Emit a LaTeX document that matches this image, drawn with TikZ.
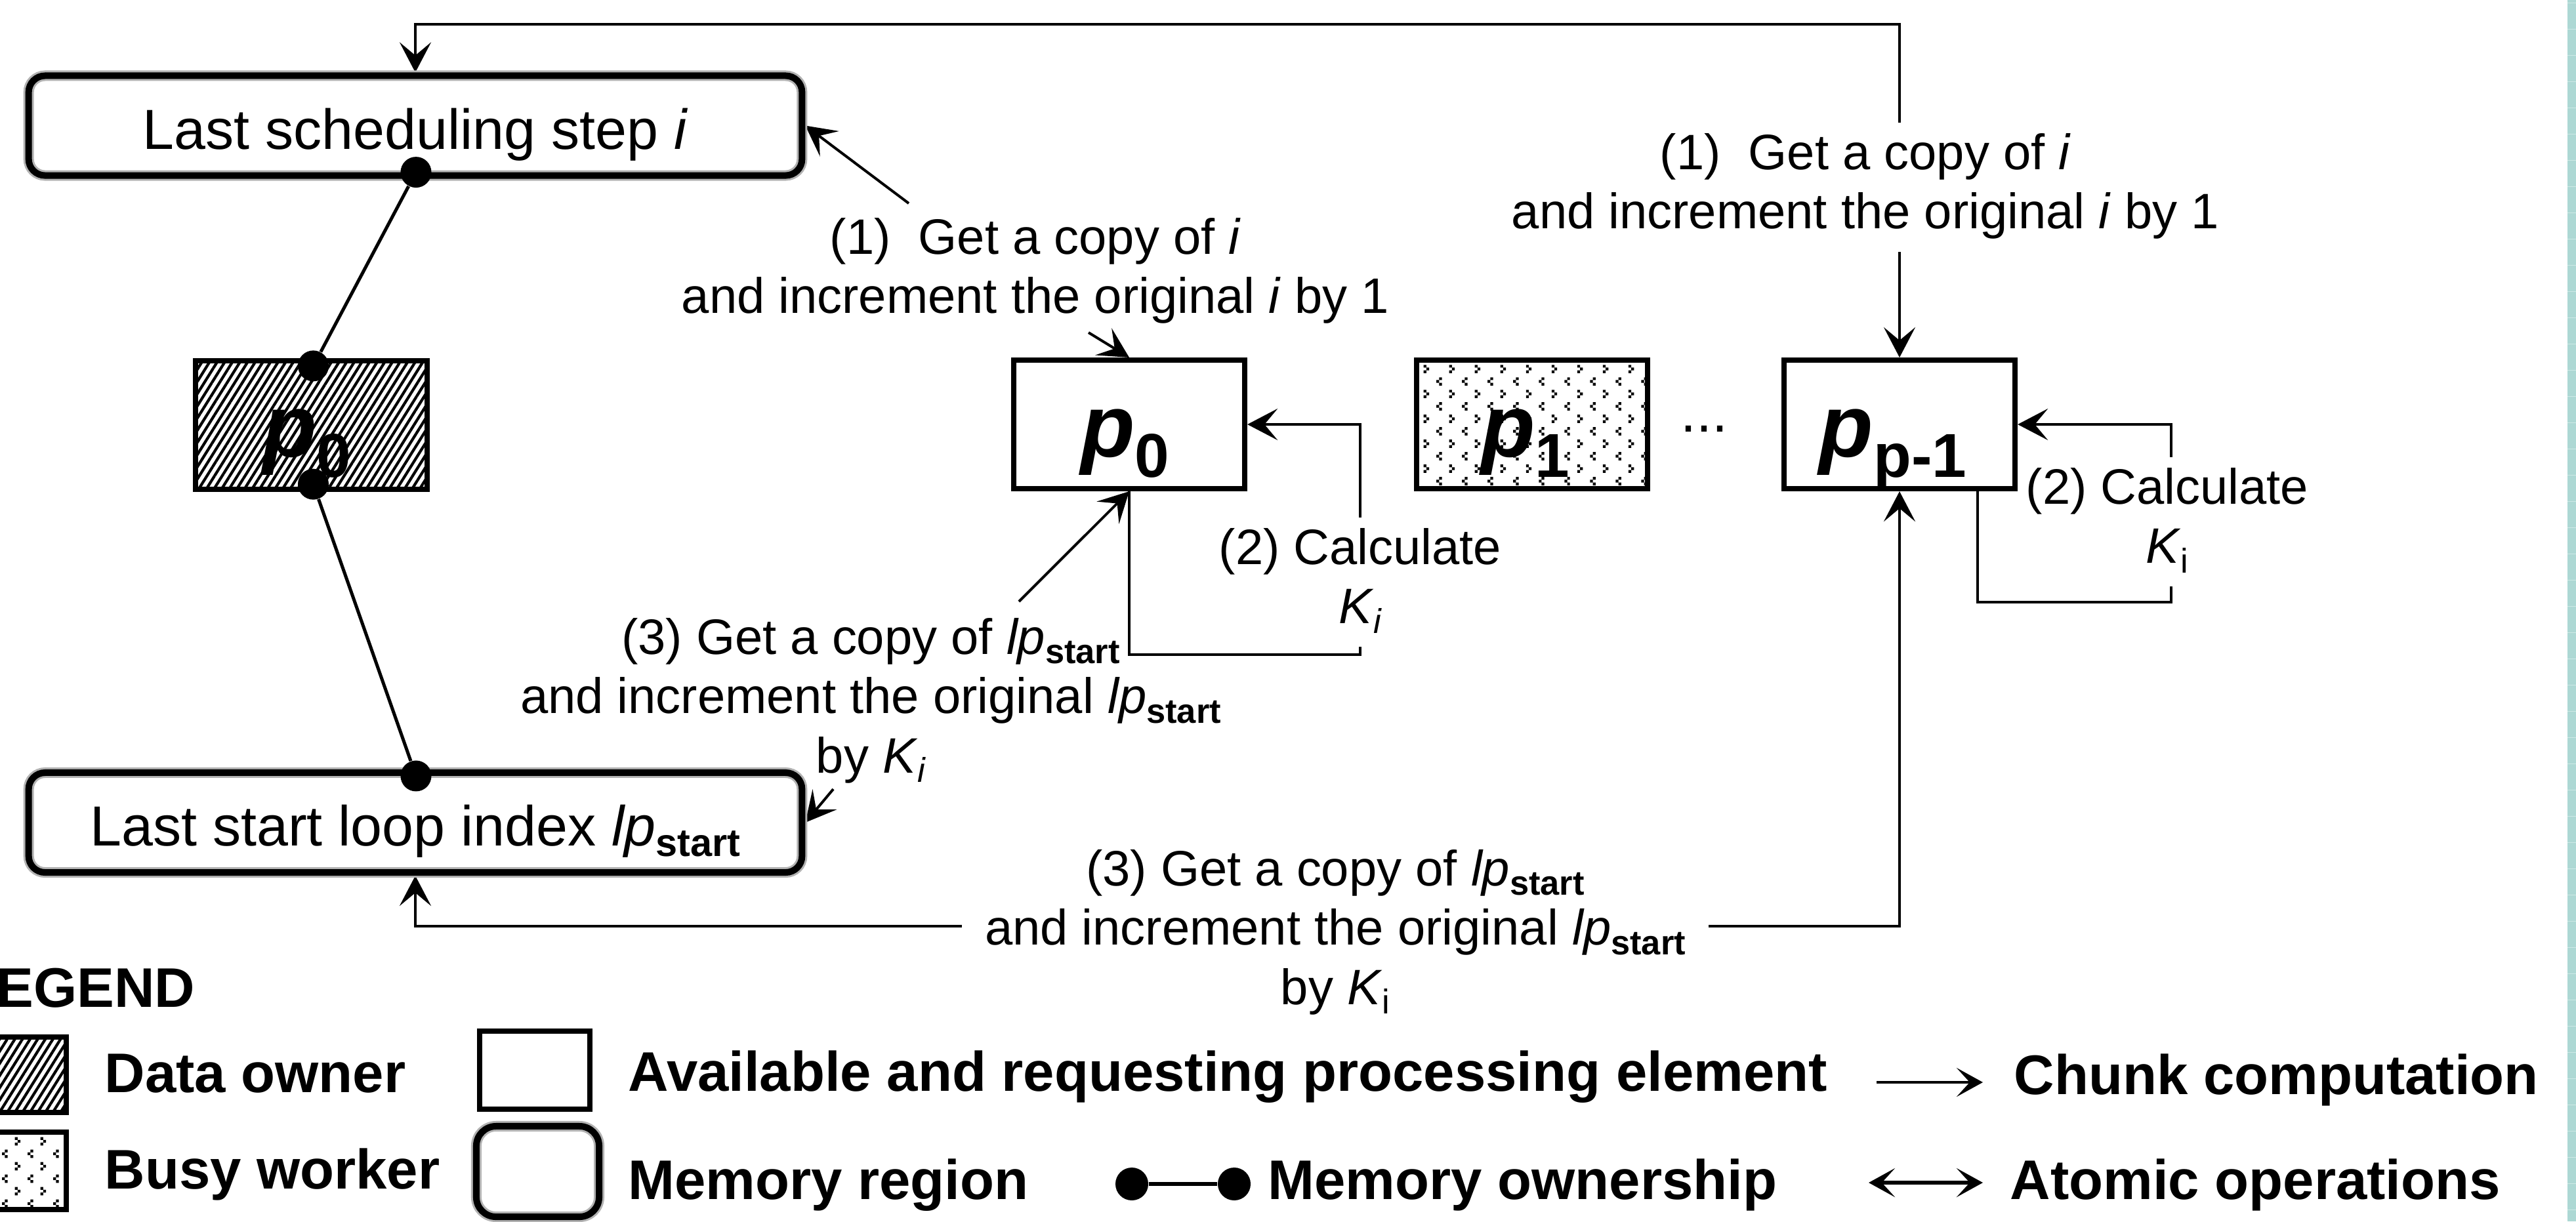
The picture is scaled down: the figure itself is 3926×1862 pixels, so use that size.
\documentclass[tikz,border=0pt]{standalone}
\usepackage{fontspec}
\setmainfont{Liberation Sans}
\usetikzlibrary{arrows.meta,patterns,patterns.meta,calc,backgrounds}

\makeatletter
% lowered, smaller text for indices
\newcommand\subt[1]{\raisebox{-0.19em}{\fontsize{\fpeval{0.69*\f@size}}{\fpeval{0.69*\f@size}}\selectfont #1}}
\newcommand\psub[1]{\raisebox{-0.23em}{\upshape\fontsize{\fpeval{0.7*\f@size}}{\fpeval{0.7*\f@size}}\selectfont #1}}
\makeatother
\newcommand\lps{\textit{lp}\subt{\bfseries start}}
\newcommand\Kit{\textit{K}\subt{\itshape i}}
\newcommand\Kup{\textit{K}\subt{i}}
\newcommand\rows[1]{\begin{tabular}[t]{@{}c@{}}#1\end{tabular}}

% fill of a busy worker: rows of small < and > marks
\pgfdeclarepatternformonly{busydots}{\pgfqpoint{-0.1pt}{-0.1pt}}{\pgfqpoint{11.2pt}{10.9pt}}{\pgfqpoint{11.1pt}{10.8pt}}{%
  \pgfpathrectangle{\pgfqpoint{2.1pt}{8.3pt}}{\pgfqpoint{1.2pt}{1.2pt}}%
  \pgfpathrectangle{\pgfqpoint{0.9pt}{7.1pt}}{\pgfqpoint{1.2pt}{1.2pt}}%
  \pgfpathrectangle{\pgfqpoint{2.1pt}{5.9pt}}{\pgfqpoint{1.2pt}{1.2pt}}%
  \pgfpathrectangle{\pgfqpoint{6.45pt}{2.9pt}}{\pgfqpoint{1.2pt}{1.2pt}}%
  \pgfpathrectangle{\pgfqpoint{7.65pt}{1.7pt}}{\pgfqpoint{1.2pt}{1.2pt}}%
  \pgfpathrectangle{\pgfqpoint{6.45pt}{0.5pt}}{\pgfqpoint{1.2pt}{1.2pt}}%
  \pgfusepath{fill}}

\definecolor{stripe}{RGB}{173,216,212}
\definecolor{stripeline}{RGB}{206,233,230}

\begin{document}
\begin{tikzpicture}[x=0.01cm,y=-0.01cm,
  hd/.tip={Stealth[length=0.46cm,width=0.48cm,inset=0.2cm]},
  conn/.style={line width=0.04cm},
  arr/.style={conn,-hd},
  dbl/.style={conn,hd-hd},
  own/.style={line width=0.05cm},
  dot/.style={circle,fill=black,inner sep=0pt,minimum size=0.47cm},
  pebox/.style={draw,line width=0.08cm,minimum width=3.52cm,minimum height=1.96cm,inner sep=0pt},
  owner/.style={pebox,pattern={Lines[angle=58,distance=2.8pt,line width=1.2pt]}},
  busy/.style={pebox,pattern=busydots},
  memreg/.style={draw,line width=0.1cm,rounded corners=0.25cm,minimum width=11.78cm,
    minimum height=1.52cm,inner sep=0pt,text height=0.71cm,text depth=0cm,
    font=\fontsize{24.5}{29}\selectfont,preaction={draw=black!30,line width=0.16cm}},
  ptxt/.style={anchor=base,inner sep=0pt,font=\fontsize{38.4}{40}\selectfont\bfseries\itshape},
  lbl/.style={anchor=base,inner sep=0pt,font=\fontsize{21.6}{25.8}\selectfont},
  lblmask/.style={lbl,fill=white,inner xsep=0.05cm,inner ysep=0.08cm},
  lgtxt/.style={anchor=base west,inner sep=0pt,font=\fontsize{24.2}{29}\selectfont\bfseries},
  lghd/.tip={Stealth[length=0.4cm,width=0.44cm,inset=0.2cm]},
  lgarr/.style={line width=0.045cm,-lghd},
  lgdbl/.style={line width=0.06cm,lghd-lghd}]

\useasboundingbox (0,0) rectangle (3926,1862);
\clip (0,0) rectangle (3926,1862);
\begin{scope}[on background layer]
  \fill[white] (0,0) rectangle (3926,1862);
\end{scope}

% shared memory regions
\node[memreg] (mem1) at (633,191.5) {Last scheduling step \textit{i}};
\node[memreg] (mem2) at (633,1254) {Last start loop index \lps};

% processing elements
\node[owner] (p0l) at (474.5,648) {};
\node[pebox] (p0m) at (1721,647) {};
\node[busy]  (p1)  at (2335,647) {};
\node[pebox] (pp1) at (2895,647) {};
\node[ptxt] (p0lt) at (468,696) {p\psub{0}};
\node[ptxt] (p0mt) at (1715,696) {p\psub{0}};
\node[ptxt] (p1t) at (2325,696) {p\psub{1}};
\node[ptxt] (pp1t) at (2885,696) {p\psub{p-1}};
\node[anchor=base,inner sep=0pt,font=\fontsize{24.5}{29}\selectfont] (ell) at (2597,658) {...};

% ownership dots
\node[dot] (d1) at ($(mem1.south)+(1,-10)$) {};
\node[dot] (d2) at ($(p0l.north)+(3,10)$) {};
\node[dot] (d3) at ($(p0l.south)+(3,-10)$) {};
\node[dot] (d4) at ($(mem2.north)+(1,10)$) {};

% step labels
\node[lblmask] (lblR1) at (2843,258) {\rows{(1)\ \ Get a copy of \textit{i}\\and increment the original \textit{i} by 1}};
\node[lbl] (lblM1) at (1578,387) {\rows{(1)\ \ Get a copy of \textit{i}\\and increment the original \textit{i} by 1}};
\node[lblmask] (lblM2) at (2073,860) {\rows{(2) Calculate\\\Kit}};
\node[lblmask] (lblR2) at (3303,768) {\rows{(2) Calculate\\\Kup}};
\node[lbl] (lblL3) at (1327,997) {\rows{(3) Get a copy of \lps\\and increment the original \lps\\by \Kit}};
\node[lblmask,inner xsep=0.35cm] (lblB3) at (2035,1350) {\rows{(3) Get a copy of \lps\\and increment the original \lps\\by \Kup}};

% routing points
\coordinate (ctop) at (2895,37);
\coordinate (cbot) at (2895,1412);
\coordinate (cm2) at (2073,998);
\coordinate (cr2s) at ($(pp1.south)+(119,0)$);
\coordinate (cr2) at (3309,918);
\coordinate (m1a) at (1385,310);
\coordinate (m1b) at (1659,507);
\coordinate (l3a) at (1553,917);
\coordinate (l3b) at (1270,1203);

\begin{scope}[on background layer]
  \draw[dbl] (mem1.north) |- (ctop) -- (pp1.north);
  \draw[dbl] (mem2.south) |- (cbot) -- (pp1.south);
  \draw[arr] (p0m.south) |- (cm2) |- (p0m.east);
  \draw[arr] (cr2s) |- (cr2) |- (pp1.east);
  \draw[arr] (m1a) -- (mem1.east);
  \draw[arr] (m1b) -- (p0m.north);
  \draw[arr] (l3a) -- (p0m.south);
  \draw[arr] (l3b) -- (mem2.east);
  \draw[own] (d1) -- (d2);
  \draw[own] (d3) -- (d4);
\end{scope}

% legend
\node[lgtxt] (lgtitle) at (-6,1535) {EGEND};
\node[owner,minimum width=1.67cm,minimum height=1.15cm] (lgown) at (17.5,1638.5) {};
\node[busy,minimum width=1.67cm,minimum height=1.18cm] (lgbusy) at (17.5,1785) {};
\node[lgtxt] (lgownt) at (159,1665) {Data owner};
\node[lgtxt] (lgbusyt) at (159,1812) {Busy worker};
\node[pebox,minimum width=1.68cm,minimum height=1.19cm] (lgavail) at (815,1631.5) {};
\node[lgtxt] (lgavailt) at (957,1663) {Available and requesting processing element};
\node[memreg,minimum width=1.87cm,minimum height=1.38cm,rounded corners=0.3cm] (lgmem) at (819.5,1786) {};
\node[lgtxt] (lgmemt) at (957,1828) {Memory region};
\node[dot,minimum size=0.5cm] (lgd1) at (1725,1805) {};
\node[dot,minimum size=0.5cm] (lgd2) at (1881,1805) {};
\draw[line width=0.06cm] (lgd1) -- (lgd2);
\node[lgtxt] (lgownt2) at (1932,1828) {Memory ownership};
\coordinate (lga1) at (2860,1650);
\coordinate (lga2) at (3022,1650);
\draw[lgarr] (lga1) -- (lga2);
\node[lgtxt] (lgchunk) at (3069,1668) {Chunk computation};
\coordinate (lgb1) at (2848,1803);
\coordinate (lgb2) at (3022,1803);
\draw[lgdbl] (lgb1) -- (lgb2);
\node[lgtxt] (lgatomic) at (3063,1828) {Atomic operations};

% page-edge stripe
\fill[stripe] (3913,0) rectangle (3926,1862);
\foreach \yy in {4,44,...,1844} \draw[stripeline,line width=0.01cm] (3913,\yy) -- (3926,\yy);
\end{tikzpicture}
\end{document}
